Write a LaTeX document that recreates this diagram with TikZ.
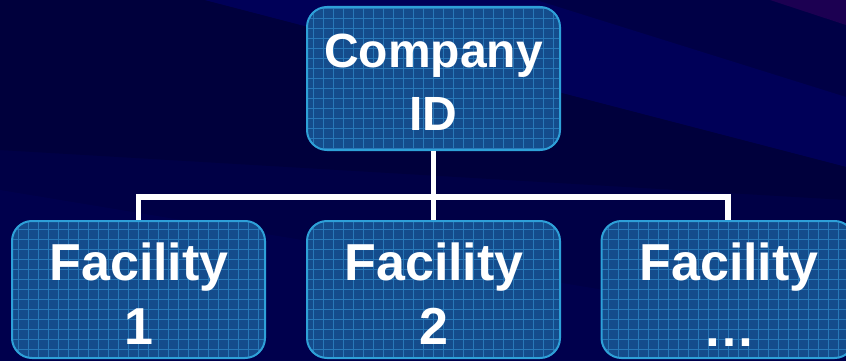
\documentclass[tikz,border=0pt]{standalone}
\usepackage{fontspec}
\setmainfont{Liberation Sans}
\definecolor{bgbase}{HTML}{000046}
\definecolor{bgband}{HTML}{000058}
\definecolor{bgdark}{HTML}{00003C}
\definecolor{bgpurple}{HTML}{1C0052}
\definecolor{boxfill}{HTML}{144C8C}
\definecolor{boxgrid}{HTML}{2878B8}
\definecolor{boxedge}{HTML}{2EA0D8}
\tikzset{
  x=1pt, y=-1pt,
  orgbox/.style={draw=boxedge, line width=2pt, fill=boxfill, rounded corners=20pt,
    minimum width=253pt, inner sep=0pt,
    path picture={
      \foreach \k in {-30,...,30} {
        \draw[boxgrid, line width=0.8pt]
          ([xshift=\k*10pt]path picture bounding box.north) --
          ([xshift=\k*10pt]path picture bounding box.south);
        \draw[boxgrid, line width=0.8pt]
          ([yshift=\k*10pt]path picture bounding box.west) --
          ([yshift=\k*10pt]path picture bounding box.east);
      }
    }},
  topbox/.style={orgbox, minimum height=143pt},
  facbox/.style={orgbox, minimum height=137pt},
  toptext/.style={anchor=base, inner sep=0pt, text=white, font=\bfseries\fontsize{48}{58}\selectfont},
  factext/.style={anchor=base, inner sep=0pt, text=white, font=\bfseries\fontsize{52}{62}\selectfont},
  link/.style={draw=white, line width=5.5pt}
}
\begin{document}
\begin{tikzpicture}
\useasboundingbox (0,0) rectangle (846,361);
\clip (0,0) rectangle (846,361);
% background
\fill[bgbase] (0,0) rectangle (846,361);
\fill[bgband] (204,0) -- (536,0) -- (846,97) -- (846,167) -- (600,103) -- cycle;
\fill[bgdark] (0,0) -- (204,0) -- (600,103) -- (846,167) -- (846,200) -- (0,150) -- cycle;
\fill[bgpurple] (770,0) -- (846,0) -- (846,25) -- cycle;
\fill[bgband!40!bgbase] (0,190) -- (846,330) -- (846,361) -- (0,361) -- cycle;
% boxes
\node[topbox] (top) at (433.5,78.5) {};
\node[facbox] (f1) at (138.5,289.5) {};
\node[facbox] (f2) at (433.5,289.5) {};
\node[facbox] (f3) at (728,289.5) {};
% texts
\node[toptext] (topa) at (433.5,68) {Company};
\node[toptext] (topb) at (433.5,130) {ID};
\node[factext] (f1a) at (139,280) {Facility};
\node[factext] (f1b) at (139,344) {1};
\node[factext] (f2a) at (434,280) {Facility};
\node[factext] (f2b) at (434,344) {2};
\node[factext] (f3a) at (729,280) {Facility};
\node[factext] (f3b) at (729,346) {…};
\coordinate (j) at (433.5,197);
% connectors
\draw[link] (top.south) -- (f2.north);
\draw[link] (f1.north) -- (f1.north |- j) -- (f3.north |- j) -- (f3.north);
\end{tikzpicture}
\end{document}
